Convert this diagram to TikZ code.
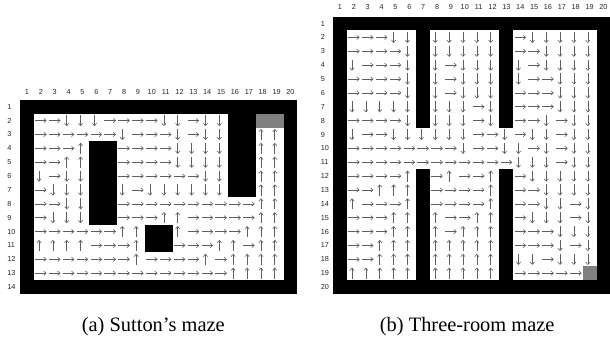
\documentclass[tikz,border=0pt]{standalone}
\usepackage{fontspec}
\setmainfont{Liberation Serif}
\newfontfamily\lblfont{Liberation Sans}
\usetikzlibrary{arrows.meta}

\definecolor{arrowgray}{RGB}{95,95,95}
\definecolor{goalgray}{RGB}{128,128,128}

\tikzset{
  pol/.style={draw=arrowgray, line width=0.6bp, -{Straight Barb[length=2.4bp,width=4.2bp]}},
  ticklbl/.style={font=\lblfont\fontsize{7.3}{8}\selectfont, inner sep=0pt, text=black!85},
  caption/.style={font=\fontsize{20.5}{24}\selectfont, inner sep=0pt, anchor=base},
  wall/.style={fill=black},
  goal/.style={fill=goalgray},
}

% one greedy action per cell: right, down, up, or nothing
\newcommand\mzR[2]{\draw[pol] (#1+0.09,#2+0.5) -- (#1+0.92,#2+0.5);}
\newcommand\mzD[2]{\draw[pol] (#1+0.37,#2+0.1) -- (#1+0.37,#2+0.9);}
\newcommand\mzU[2]{\draw[pol] (#1+0.37,#2+0.9) -- (#1+0.37,#2+0.1);}
\newcommand\mzO[2]{}

% rows of the interior, starting at row 2, column 2
\newcommand\drawpolicy[1]{%
  \foreach \rowlist [count=\ri from 1] in {#1} {
    \foreach \cc [count=\ci from 1] in \rowlist {
      \csname mz\cc\endcsname{\ci}{\ri}
    }
  }}

\begin{document}
\begin{tikzpicture}[x=1bp,y=-1bp]
\useasboundingbox (0,0) rectangle (610,341);
\fill[white] (0,0) rectangle (610,341);

% ---------------- Sutton's maze: 20 x 14 ----------------
\begin{scope}[shift={(20,99.8)}, x=13.87bp, y=-13.87bp]
  \fill[wall] (0,0) rectangle (20,14);
  \fill[white] (1,1) rectangle (19,13);
  \fill[wall] (5,3) rectangle (7,9);
  \fill[wall] (9,9) rectangle (11,11);
  \fill[wall] (15,1) rectangle (17,7);
  \fill[goal] (17,1) rectangle (19,2);
  \foreach \k in {1,...,20}
    \node[ticklbl, anchor=base] (sc\k) at (\k-0.5,-0.36) {\k};
  \foreach \k in {1,...,14}
    \node[ticklbl, anchor=west] (sr\k) at (-0.92,\k-0.5) {\k};
  \drawpolicy{%
    {R,R,D,D,D,R,R,R,R,D,D,R,D,D,O,O,O,O},%
    {R,R,R,R,R,R,D,R,R,R,D,R,D,D,O,O,U,U},%
    {R,R,R,U,O,O,R,R,R,R,D,D,D,D,O,O,U,U},%
    {R,R,U,U,O,O,R,R,R,R,D,D,D,D,O,O,U,U},%
    {D,R,D,D,O,O,R,R,R,R,R,R,D,D,O,O,U,U},%
    {R,D,D,D,O,O,D,R,D,D,D,D,D,D,O,O,U,U},%
    {R,R,D,D,O,O,R,R,R,R,R,R,R,R,R,R,U,U},%
    {R,D,D,D,O,O,R,R,R,U,U,R,R,R,R,R,U,U},%
    {R,R,R,R,R,R,U,U,O,O,U,R,R,R,R,U,U,U},%
    {U,U,U,U,R,R,R,U,O,O,R,R,R,U,U,R,U,U},%
    {R,R,R,R,R,R,R,U,R,R,R,R,U,R,U,U,U,U},%
    {R,R,R,R,R,R,R,R,R,R,R,R,R,R,U,U,U,U}%
  }
\end{scope}

% ---------------- Three-room maze: 20 x 20 ----------------
\begin{scope}[shift={(333.0,16.6)}, x=13.87bp, y=-13.87bp]
  \fill[wall] (0,0) rectangle (20,20);
  \fill[white] (1,1) rectangle (19,19);
  \fill[wall] (6,1) rectangle (7,8);
  \fill[wall] (6,11) rectangle (7,19);
  \fill[wall] (12,1) rectangle (13,8);
  \fill[wall] (12,11) rectangle (13,19);
  \fill[goal] (18,18) rectangle (19,19);
  \foreach \k in {1,...,20}
    \node[ticklbl, anchor=base] (tc\k) at (\k-0.5,-0.49) {\k};
  \foreach \k in {1,...,20}
    \node[ticklbl, anchor=west] (tr\k) at (-0.89,\k-0.5) {\k};
  \drawpolicy{%
    {R,R,R,D,D,O,D,D,D,D,D,O,R,D,D,D,D,D},%
    {R,R,R,R,D,O,D,D,D,D,D,O,R,R,D,D,D,D},%
    {D,R,R,R,D,O,D,R,D,D,D,O,D,R,D,D,D,D},%
    {R,R,R,R,D,O,D,R,D,D,D,O,D,R,R,D,D,D},%
    {R,R,R,R,D,O,D,R,D,D,D,O,R,R,R,D,D,D},%
    {D,D,D,D,D,O,D,D,D,R,D,O,R,R,R,D,D,D},%
    {R,R,R,R,D,O,D,D,D,R,D,O,R,R,D,R,D,D},%
    {D,R,R,D,D,D,D,D,D,R,R,D,R,D,D,R,D,D},%
    {R,R,R,R,R,R,R,R,D,R,R,D,D,R,D,R,D,D},%
    {R,R,R,R,R,R,R,R,R,R,R,R,D,D,D,R,D,D},%
    {R,R,R,R,U,O,R,U,R,R,U,O,R,D,D,D,D,D},%
    {R,R,U,U,U,O,R,R,R,R,U,O,R,R,D,D,D,D},%
    {U,R,R,R,U,O,R,R,R,R,U,O,R,R,D,D,R,D},%
    {R,R,R,U,U,O,U,R,R,U,U,O,R,D,D,D,R,D},%
    {R,R,R,U,U,O,U,R,U,U,U,O,R,R,R,D,D,D},%
    {R,R,U,U,U,O,U,U,U,U,U,O,R,R,R,D,R,D},%
    {R,R,U,U,U,O,U,U,U,U,U,O,D,D,R,D,D,D},%
    {U,U,U,U,U,O,U,U,U,U,U,O,R,R,R,R,R,O}%
  }
\end{scope}

\node[caption] (capa) at (153.3,331) {(a) Sutton's maze};
\node[caption] (capb) at (467.2,331) {(b) Three-room maze};
\end{tikzpicture}
\end{document}
